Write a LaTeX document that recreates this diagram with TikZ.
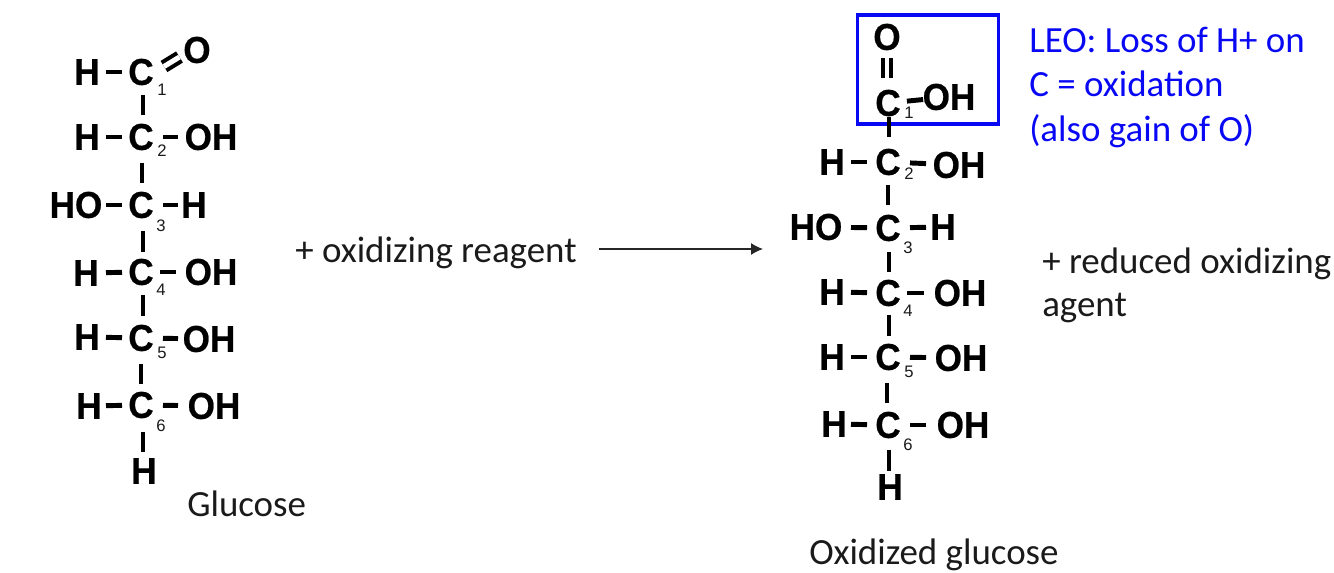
\documentclass[tikz,border=0pt]{standalone}
\usepackage{fontspec}
\setmainfont{Carlito}
\newfontfamily\atomfont[BoldFeatures={FakeBold=0.6,FakeStretch=0.94}]{Liberation Sans}
\usetikzlibrary{calc,arrows.meta}
\definecolor{leoblue}{HTML}{0808F5}
\definecolor{ink}{HTML}{000000}
\definecolor{cap}{HTML}{1A1A1A}
\tikzset{
  atom/.style={inner sep=0pt, text=ink, font=\atomfont\fontsize{28}{28}\selectfont\bfseries},
  num/.style={inner sep=0pt, text=cap, font=\atomfont\fontsize{12.5}{13}\selectfont},
  lab/.style={inner sep=0pt, anchor=base west, text=cap, font=\fontsize{27.7}{29}\selectfont},
  labb/.style={lab, text=leoblue},
  bond/.style 2 args={draw=ink, line width=3.7pt, shorten <=#1*0.75pt, shorten >=#2*0.75pt},
  dbl/.style={draw=ink, line width=3pt, double, double distance=2.4pt},
}
\begin{document}
\begin{tikzpicture}[x=0.75pt,y=-0.75pt]
  \useasboundingbox (0,0) rectangle (1334,573);

  % glucose
  \node[atom] (c1) at (141,72) {C};
  \node[atom] (c2) at (141,137) {C};
  \node[atom] (c3) at (141,205) {C};
  \node[atom] (c4) at (141,272) {C};
  \node[atom] (c5) at (141,338) {C};
  \node[atom] (c6) at (141,405) {C};
  \node[atom] (h1) at (87,72) {H};
  \node[atom] (h2) at (87,137) {H};
  \node[atom] (o3) at (76,205) {HO};
  \node[atom] (h4) at (86,273) {H};
  \node[atom] (h5) at (87,337) {H};
  \node[atom] (h6) at (89,406) {H};
  \node[atom] (o1) at (197,50) {O};
  \node[atom] (o2) at (211,137) {OH};
  \node[atom] (h3) at (194,205) {H};
  \node[atom] (o4) at (211,272) {OH};
  \node[atom] (o5) at (209,339) {OH};
  \node[atom] (o6) at (214,406) {OH};
  \node[atom] (h7) at (144,471) {H};
  \foreach \n/\px/\py in {1/162/90, 2/162/151, 3/161/226, 4/161/290, 5/162/353, 6/161/426}
    \node[num] (n\n) at (\px,\py) {\n};

  \draw[bond={19}{19}] (h1.center)--(c1.center);
  \draw[bond={19}{19}] (h2.center)--(c2.center);
  \draw[bond={30}{19}] (o3.center)--(c3.center);
  \draw[bond={20}{19}] (h4.center)--(c4.center);
  \draw[bond={19}{19}] (h5.center)--(c5.center);
  \draw[bond={17}{19}] (h6.center)--(c6.center);
  \draw[bond={22}{33}] (c2.center)--(o2.center);
  \draw[bond={22}{16}] (c3.center)--(h3.center);
  \draw[bond={19}{35}] (c4.center)--(o4.center);
  \draw[bond={22}{31}] (c5.center)--(o5.center);
  \draw[bond={22}{36}] (c6.center)--(o6.center);
  \draw[bond={23}{22}] ($(c1.center)+(2,0)$)--($(c2.center)+(2,0)$);
  \draw[bond={26}{22}] ($(c2.center)+(1,0)$)--($(c3.center)+(1,0)$);
  \draw[bond={26}{20}] ($(c3.center)+(2,0)$)--($(c4.center)+(2,0)$);
  \draw[bond={23}{22}] ($(c4.center)+(2,0)$)--($(c5.center)+(2,0)$);
  \draw[bond={26}{21}] (c5.center)--(c6.center);
  \draw[bond={27}{19}] ($(c6.center)+(2,0)$)--($(h7.center)+(-1,0)$);
  \coordinate (d1) at (164,66.5);
  \coordinate (d2) at (179.5,57);
  \draw[dbl,double distance=3.8pt] (d1)--(d2); % C=O

  \node[lab] (gluc) at (187,516) {Glucose};
  \node[lab] (reag) at (295,263) {+ oxidizing reagent};
  \coordinate (ar1) at (599,249);
  \coordinate (ar2) at (763,249);
  \draw[-{Latex[length=9pt,width=9pt]},draw=ink!85,line width=0.9pt] (ar1)--(ar2);

  % oxidized glucose
  \node[draw=leoblue,line width=2.6pt,minimum width=106pt,minimum height=81.5pt,inner sep=0pt] (boxc) at (928,69.5) {};
  \node[atom] (r1) at (888,103) {C};
  \node[atom] (r2) at (888,162) {C};
  \node[atom] (r3) at (888,228) {C};
  \node[atom] (r4) at (888,293) {C};
  \node[atom] (r5) at (888,357) {C};
  \node[atom] (r6) at (888,425) {C};
  \node[atom] (ro) at (887,37) {O};
  \node[atom] (ro1) at (949,97) {OH};
  \node[atom] (rh2) at (832,162) {H};
  \node[atom] (ro2) at (959,165) {OH};
  \node[atom] (ro3) at (816,227) {HO};
  \node[atom] (rh3) at (943,227) {H};
  \node[atom] (rh4) at (832,292) {H};
  \node[atom] (ro4) at (960,293) {OH};
  \node[atom] (rh5) at (832,357) {H};
  \node[atom] (ro5) at (961,358) {OH};
  \node[atom] (rh6) at (834,424) {H};
  \node[atom] (ro6) at (963,425) {OH};
  \node[atom] (rh7) at (890,487) {H};
  \foreach \n/\px/\py in {1/909/113, 2/909/174, 3/908/248, 4/908/311, 5/909/372, 6/908/445}
    \node[num] (m\n) at (\px,\py) {\n};

  \draw[dbl,shorten <=15.7pt,shorten >=18.7pt] (ro.center)--(ro.center |- r1.center);
  \draw[bond={19}{26}] (r1.center)--(ro1.center);
  \draw[bond={19}{21}] (rh2.center)--(r2.center);
  \draw[bond={22}{33}] (r2.center)--(ro2.center);
  \draw[bond={35}{21}] (ro3.center)--(r3.center);
  \draw[bond={22}{17}] (r3.center)--(rh3.center);
  \draw[bond={19}{21}] (rh4.center)--(r4.center);
  \draw[bond={19}{36}] (r4.center)--(ro4.center);
  \draw[bond={19}{21}] (rh5.center)--(r5.center);
  \draw[bond={22}{35}] (r5.center)--(ro5.center);
  \draw[bond={17}{21}] (rh6.center)--(r6.center);
  \draw[bond={22}{37}] (r6.center)--(ro6.center);
  \draw[bond={14}{25}] ($(r1.center)+(1,0)$)--($(r2.center)+(1,0)$);
  \draw[bond={23}{23}] (r2.center)--(r3.center);
  \draw[bond={24}{21}] ($(r3.center)+(1,0)$)--($(r4.center)+(1,0)$);
  \draw[bond={22}{21}] ($(r4.center)+(1,0)$)--($(r5.center)+(1,0)$);
  \draw[bond={26}{22}] ($(r5.center)+(-1,0)$)--($(r6.center)+(-1,0)$);
  \draw[bond={25}{16}] ($(r6.center)+(1,0)$)--($(rh7.center)+(-1,0)$);

  \node[lab] (oxgl) at (809,564) {Oxidized glucose};
  \node[labb] (leo1) at (1029,53) {LEO: Loss of H+ on};
  \node[labb] (leo2) at (1029,97) {C = oxidation};
  \node[labb] (leo3) at (1029,142) {(also gain of O)};
  \node[lab] (rdc1) at (1042,274) {+ reduced oxidizing};
  \node[lab] (rdc2) at (1042,317) {agent};
\end{tikzpicture}
\end{document}
